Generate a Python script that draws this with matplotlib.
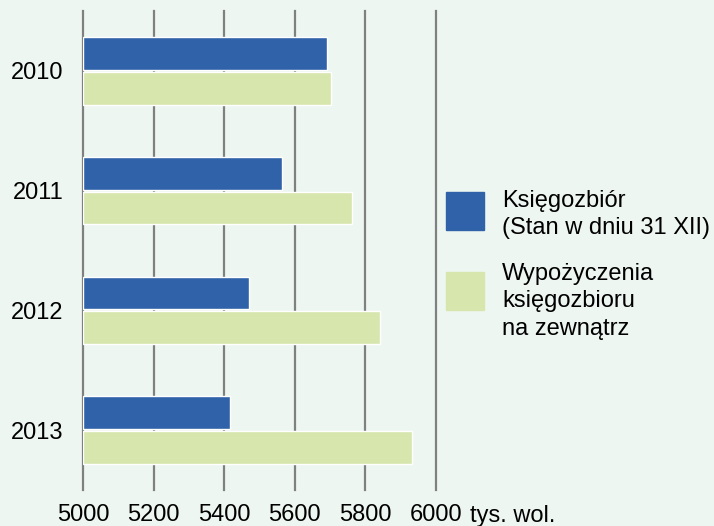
import matplotlib.pyplot as plt
from matplotlib.patches import Rectangle
import numpy as np

plt.rcParams['font.family'] = ['Liberation Sans', 'DejaVu Sans']

years = ['2010', '2011', '2012', '2013']
ksiegozbior = [5693, 5565, 5471, 5417]
wypozyczenia = [5704, 5764, 5843, 5932]
xticks = [5000, 5200, 5400, 5600, 5800, 6000]

bg = '#eef6f1'
blue = '#2f62a9'
green = '#d6e6ac'
grid = '#808080'

fig = plt.figure(figsize=(7.14, 5.26), dpi=100, facecolor=bg)
ax = fig.add_axes([83 / 714, 1 - 490 / 526, (435.7 - 83) / 714, 479 / 526])
ax.set_facecolor(bg)

y = np.arange(len(years))
h = 0.275
off = 0.145
ax.barh(y - off, [v - 5000 for v in ksiegozbior], left=5000, height=h,
        color=blue, edgecolor='white', linewidth=1, zorder=3)
ax.barh(y + off, [v - 5000 for v in wypozyczenia], left=5000, height=h,
        color=green, edgecolor='white', linewidth=1, zorder=3)

for x in xticks:
    ax.axvline(x, color=grid, linewidth=1.6, zorder=1, clip_on=False)

ax.set_xlim(5000, 6000)
ax.set_ylim(3.5, -0.5)
ax.set_xticks(xticks)
ax.set_xticklabels([str(x) for x in xticks], fontsize=17)
ax.tick_params(axis='both', length=0)
ax.tick_params(axis='x', pad=10)
ax.tick_params(axis='y', pad=14)
ax.set_yticks(y)
ax.set_yticklabels(years, fontsize=17)
for s in ax.spines.values():
    s.set_visible(False)

fig.text(470 / 714, 1 - 522 / 526, 'tys. wol.', fontsize=17, va='baseline')

# legend drawn by hand
fig.add_artist(Rectangle((446 / 714, 1 - 230 / 526), 38 / 714, 38 / 526,
                         transform=fig.transFigure, color=blue))
fig.add_artist(Rectangle((446 / 714, 1 - 310 / 526), 38 / 714, 38 / 526,
                         transform=fig.transFigure, color=green))
lines = [('Księgozbiór', 206.5), ('(Stan w dniu 31 XII)', 234),
         ('Wypożyczenia', 280), ('księgozbioru', 307.5), ('na zewnątrz', 335)]
for txt, yb in lines:
    fig.text(502 / 714, 1 - yb / 526, txt, fontsize=17, va='baseline')

fig.savefig('out.png', dpi=100, facecolor=bg)
